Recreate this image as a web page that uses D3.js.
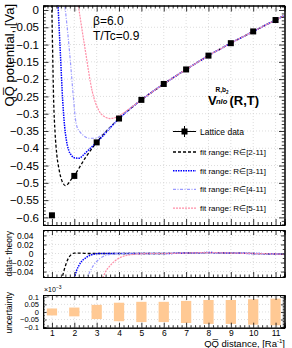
<!DOCTYPE html>
<html>
<head>
<meta charset="utf-8">
<script src="https://cdn.jsdelivr.net/npm/d3@7"></script>
<style>
  body { margin: 0; background: #fff; }
  text { font-family: "Liberation Sans", Arial, sans-serif; }
</style>
</head>
<body>
<svg width="292" height="348"></svg>
<script>
// lattice data
const distances = [1, 2, 3, 4, 5, 6, 7, 8, 9, 10, 11];
const potential = [-0.594, -0.48, -0.383, -0.314, -0.26, -0.214, -0.172, -0.132, -0.096, -0.062, -0.029];
// uncertainty, units of 1e-3
const uncertainty = [0.023, 0.029, 0.047, 0.061, 0.067, 0.067, 0.073, 0.079, 0.079, 0.084, 0.088];

// fit curves, [R, V]
const fit2 = [[0.99, 0.03], [1.03, -0.116], [1.076, -0.261], [1.14, -0.355], [1.22, -0.42], [1.3, -0.455], [1.4, -0.485],
  [1.48, -0.499], [1.6, -0.508], [1.72, -0.503], [1.82, -0.494], [2, -0.479], [2.5, -0.427], [3, -0.383], [4, -0.314],
  [5, -0.26], [6, -0.214], [7, -0.172], [8, -0.132], [9, -0.096], [10, -0.062], [11, -0.029], [11.4, -0.016]];
const fit3 = [[1.26, 0.03], [1.37, -0.116], [1.48, -0.261], [1.57, -0.339], [1.63, -0.37], [1.75, -0.406], [1.87, -0.42],
  [1.97, -0.427], [2.2, -0.429], [2.49, -0.414], [2.75, -0.398], [3, -0.383], [4, -0.314], [5, -0.26], [6, -0.214],
  [7, -0.172], [8, -0.132], [9, -0.096], [10, -0.062], [11, -0.029], [11.4, -0.016]];
const fit4 = [[1.55, 0.03], [1.78, -0.116], [1.97, -0.261], [2.04, -0.31], [2.12, -0.338], [2.27, -0.354], [2.45, -0.365],
  [2.65, -0.371], [2.94, -0.371], [3.32, -0.357], [3.7, -0.334], [4, -0.315], [5, -0.26], [6, -0.214], [7, -0.172],
  [8, -0.132], [9, -0.096], [10, -0.062], [11, -0.029], [11.4, -0.016]];
const fit5 = [[2.14, 0.03], [2.49, -0.116], [2.8, -0.235], [3.09, -0.29], [3.39, -0.31], [3.6, -0.314], [3.8, -0.312],
  [4, -0.306], [4.5, -0.284], [5, -0.26], [6, -0.214], [7, -0.172], [8, -0.132], [9, -0.096], [10, -0.062],
  [11, -0.029], [11.4, -0.016]];

// data - theory, [R, diff]
const diff2 = [[1.42, -0.06], [1.5, -0.045], [1.58, -0.031], [1.73, -0.011], [1.85, -0.003], [2, 0.001], [2.3, 0.001],
  [2.6, 0], [4, 0], [6, 0], [7, 0.001], [8, 0.002], [9, 0.001], [10, 0], [11, -0.001], [11.4, -0.002]];
const diff3 = [[1.97, -0.06], [2.1, -0.038], [2.26, -0.022], [2.56, -0.008], [2.93, -0.001], [3.2, 0], [4, 0], [6, 0],
  [7, 0.001], [8, 0.002], [9, 0.001], [10, 0], [11, -0.001], [11.4, -0.002]];
const diff4 = [[2.53, -0.06], [2.7, -0.04], [2.85, -0.027], [3.15, -0.011], [3.6, -0.002], [4, 0], [6, 0], [7, 0.001],
  [8, 0.002], [9, 0.001], [10, 0], [11, -0.001], [11.4, -0.002]];
const diff5 = [[3.22, -0.06], [3.4, -0.04], [3.6, -0.027], [4.05, -0.009], [4.63, -0.002], [5.3, 0], [6, 0], [7, 0.001],
  [8, 0.002], [9, 0.001], [10, 0], [11, -0.001], [11.4, -0.002]];

const fitLabels = ["fit range: R\u2208[2-11]", "fit range: R\u2208[3-11]", "fit range: R\u2208[4-11]", "fit range: R\u2208[5-11]"];

// tick values
const xTicks = [1, 2, 3, 4, 5, 6, 7, 8, 9, 10, 11];
const mainTicks = [0, -0.05, -0.1, -0.15, -0.2, -0.25, -0.3, -0.35, -0.4, -0.45, -0.5, -0.55, -0.6];
const diffTicks = [-0.04, -0.02, 0, 0.02, 0.04];
const uncTicks = [-0.1, -0.05, 0, 0.05, 0.1];

const svg = d3.select("svg");
const fmt = d3.format(".2~f");

const fitStyles = [
  { data: fit2, diff: diff2, color: "#000000", dash: "3,2", width: 1.3 },
  { data: fit3, diff: diff3, color: "#0000ff", dash: "1.5,1", width: 1.5 },
  { data: fit4, diff: diff4, color: "#9a9aff", dash: "3,1.5,1,1.5", width: 1.2 },
  { data: fit5, diff: diff5, color: "#ff8fa8", dash: "2,1", width: 1.2 },
];

// shared x scale
const x = d3.scaleLinear().domain([0.6, 11.4]).range([43, 284.5]);
const xMinor = d3.range(0.6, 11.41, 0.2).map((d) => +d.toFixed(1)).filter((d) => !xTicks.includes(d));

// panels
const panels = [
  { name: "main", y: d3.scaleLinear().domain([-0.622, 0.013]).range([225, 5.5]), ticks: mainTicks, minorStep: 0.01, xt: 6, yt: 5.5, pad: 4, fs: 11.5 },
  { name: "diff", y: d3.scaleLinear().domain([-0.052, 0.052]).range([277, 230]), ticks: diffTicks, minorStep: 0.01, xt: 5, yt: 3.5, pad: 9.5, fs: 8.5 },
  { name: "unc", y: d3.scaleLinear().domain([-0.104, 0.112]).range([327.7, 295]), ticks: uncTicks, minorStep: 0.01, xt: 5, yt: 3.5, pad: 4, fs: 7.5 },
];

panels.forEach((p) => {
  const y = p.y;
  const g = svg.append("g").attr("class", p.name);

  // clip
  svg.append("clipPath").attr("id", "clip-" + p.name)
    .append("rect").attr("x", x.range()[0]).attr("y", y.range()[1])
    .attr("width", x.range()[1] - x.range()[0]).attr("height", y.range()[0] - y.range()[1]);

  // grid
  g.append("g").selectAll("line").data(xTicks).join("line")
    .attr("x1", (d) => x(d)).attr("x2", (d) => x(d))
    .attr("y1", y.range()[0]).attr("y2", y.range()[1])
    .attr("stroke", "#cfcfcf").attr("stroke-width", 0.7).attr("stroke-dasharray", "1,2");
  g.append("g").selectAll("line").data(p.ticks).join("line")
    .attr("x1", x.range()[0]).attr("x2", x.range()[1])
    .attr("y1", (d) => y(d)).attr("y2", (d) => y(d))
    .attr("stroke", "#cfcfcf").attr("stroke-width", 0.7).attr("stroke-dasharray", "1,2");
  p.g = g;
});

// main panel: fit curves and data
const main = panels[0];
const line = d3.line().x((d) => x(d[0])).y((d) => main.y(d[1])).curve(d3.curveMonotoneX);
const curves = main.g.append("g").attr("clip-path", "url(#clip-main)");
fitStyles.forEach((s) => {
  curves.append("path").attr("d", line(s.data)).attr("fill", "none")
    .attr("stroke", s.color).attr("stroke-width", s.width).attr("stroke-dasharray", s.dash);
});
main.g.append("g").selectAll("rect").data(distances).join("rect")
  .attr("x", (d) => x(d) - 3).attr("y", (d, i) => main.y(potential[i]) - 3)
  .attr("width", 6).attr("height", 6).attr("fill", "#000");

// diff panel
const diffP = panels[1];
const dline = d3.line().x((d) => x(d[0])).y((d) => diffP.y(d[1])).curve(d3.curveMonotoneX);
const dcurves = diffP.g.append("g").attr("clip-path", "url(#clip-diff)");
fitStyles.forEach((s) => {
  dcurves.append("path").attr("d", dline(s.diff)).attr("fill", "none")
    .attr("stroke", s.color).attr("stroke-width", s.width).attr("stroke-dasharray", s.dash);
});

// uncertainty panel
const uncP = panels[2];
uncP.g.append("g").selectAll("rect").data(distances).join("rect")
  .attr("x", (d) => x(d - 0.23)).attr("width", (d) => x(d + 0.23) - x(d - 0.23))
  .attr("y", (d, i) => uncP.y(uncertainty[i]))
  .attr("height", (d, i) => uncP.y(-uncertainty[i]) - uncP.y(uncertainty[i]))
  .attr("fill", "#ffc994");

// axes and frames
panels.forEach((p) => {
  const y = p.y;
  const [yb, yt] = y.range();
  const [xl, xr] = x.range();
  const [d0, d1] = y.domain();
  const minorY = d3.range(Math.ceil(d0 / p.minorStep), Math.floor(d1 / p.minorStep) + 1)
    .map((i) => +(i * p.minorStep).toFixed(4))
    .filter((v) => !p.ticks.some((t) => Math.abs(t - v) < 1e-6));

  const ax = svg.append("g").attr("class", "axes-" + p.name);
  const bottom = ax.append("g").attr("transform", `translate(0,${yb})`)
    .call(d3.axisBottom(x).tickValues(xTicks).tickSize(-p.xt).tickPadding(2.5).tickFormat(p.name === "unc" ? d3.format("d") : ""));
  ax.append("g").attr("transform", `translate(0,${yb})`)
    .call(d3.axisBottom(x).tickValues(xMinor).tickSize(-p.xt / 2).tickFormat(""));
  ax.append("g").attr("transform", `translate(0,${yt})`)
    .call(d3.axisTop(x).tickValues(xTicks).tickSize(-p.xt).tickFormat(""));
  ax.append("g").attr("transform", `translate(0,${yt})`)
    .call(d3.axisTop(x).tickValues(xMinor).tickSize(-p.xt / 2).tickFormat(""));
  ax.append("g").attr("transform", `translate(${xl},0)`)
    .call(d3.axisLeft(y).tickValues(p.ticks).tickSize(-p.yt).tickPadding(p.pad).tickFormat(fmt));
  ax.append("g").attr("transform", `translate(${xl},0)`)
    .call(d3.axisLeft(y).tickValues(minorY).tickSize(-p.yt / 2).tickFormat(""));
  ax.append("g").attr("transform", `translate(${xr},0)`)
    .call(d3.axisRight(y).tickValues(p.ticks).tickSize(-p.yt).tickFormat(""));
  ax.append("g").attr("transform", `translate(${xr},0)`)
    .call(d3.axisRight(y).tickValues(minorY).tickSize(-p.yt / 2).tickFormat(""));

  ax.selectAll(".domain").attr("stroke", "#000");
  ax.selectAll(".tick line").attr("stroke", "#000").attr("stroke-width", 0.8);
  ax.selectAll(".tick text").attr("font-size", p.fs).attr("fill", "#000")
    .attr("font-family", "Liberation Sans, Arial, sans-serif");
  bottom.selectAll(".tick text").attr("font-size", 8.5);
});

// axis titles
svg.append("text").attr("transform", "translate(13.5,4) rotate(-90)")
  .attr("text-anchor", "end").attr("font-size", 13).text("QQ\u0305 potential, [Va]");
svg.append("text").attr("transform", "translate(11.5,231) rotate(-90)")
  .attr("text-anchor", "end").attr("font-size", 8.5).text("data- theory");
svg.append("text").attr("transform", "translate(11.5,292) rotate(-90)")
  .attr("text-anchor", "end").attr("font-size", 8.5).text("uncertainty");
const xt = svg.append("text").attr("x", 285).attr("y", 346.5).attr("text-anchor", "end").attr("font-size", 9.5);
xt.append("tspan").text("QQ\u0305 distance, [Ra");
xt.append("tspan").attr("dy", -4).attr("font-size", 6).text("-1");
xt.append("tspan").attr("dy", 4).text("]");
const ex = svg.append("text").attr("x", 44).attr("y", 292).attr("font-size", 7);
ex.append("tspan").text("\u00d710");
ex.append("tspan").attr("dy", -3).attr("font-size", 5).text("\u22123");

// annotations
svg.append("text").attr("x", 93).attr("y", 25).attr("font-size", 12).text("\u03b2=6.0");
svg.append("text").attr("x", 93).attr("y", 40).attr("font-size", 12).text("T/Tc=0.9");
svg.append("text").attr("x", 208).attr("y", 105).attr("font-size", 13).attr("font-weight", "bold").text("V");
const sup = svg.append("text").attr("x", 215.5).attr("y", 92).attr("font-size", 6.5).attr("font-weight", "bold");
sup.append("tspan").text("R,b");
sup.append("tspan").attr("dy", 1.5).attr("font-size", 4.5).text("2");
svg.append("text").attr("x", 216).attr("y", 104).attr("font-size", 7.5).attr("font-weight", "bold")
  .attr("font-style", "italic").text("nlo");
svg.append("text").attr("x", 229.5).attr("y", 105).attr("font-size", 13).attr("font-weight", "bold").text("(R,T)");

// legend
const legend = svg.append("g").attr("class", "legend");
legend.append("line").attr("x1", 173).attr("x2", 196).attr("y1", 131.5).attr("y2", 131.5).attr("stroke", "#000");
legend.append("line").attr("x1", 184.5).attr("x2", 184.5).attr("y1", 126).attr("y2", 137).attr("stroke", "#000");
legend.append("rect").attr("x", 181.5).attr("y", 128.5).attr("width", 6).attr("height", 6).attr("fill", "#000");
legend.append("text").attr("x", 200).attr("y", 134.5).attr("font-size", 8.5).text("Lattice data");
fitStyles.forEach((s, i) => {
  const yy = 152 + i * 18.7;
  legend.append("line").attr("x1", 173).attr("x2", 196).attr("y1", yy).attr("y2", yy)
    .attr("stroke", s.color).attr("stroke-width", s.width).attr("stroke-dasharray", s.dash);
  legend.append("text").attr("x", 200).attr("y", yy + 3).attr("font-size", 8).text(fitLabels[i]);
});
</script>
</body>
</html>
